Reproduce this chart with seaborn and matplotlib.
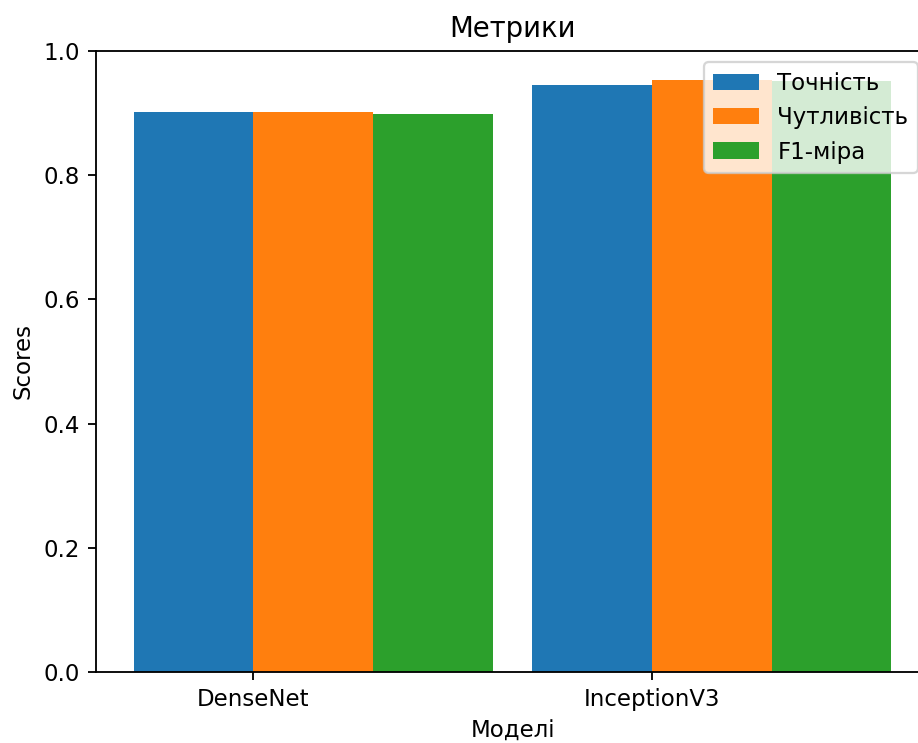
import matplotlib
matplotlib.use("Agg")
import matplotlib.pyplot as plt
import pandas as pd
import seaborn as sns

# ------------------------------------------------------------------
#  Data
# ------------------------------------------------------------------
models = ["DenseNet", "InceptionV3"]
metrics = ["Точність", "Чутливість", "F1-міра"]
precision = [0.902, 0.945]
recall = [0.902, 0.953]
f1 = [0.899, 0.951]

df = pd.DataFrame({
    "model": models * 3,
    "metric": [metrics[0]] * 2 + [metrics[1]] * 2 + [metrics[2]] * 2,
    "score": precision + recall + f1,
})

DPI = 165
fig = plt.figure(figsize=(918 / DPI, 743 / DPI), dpi=DPI)
# the original screenshot is cropped on the right, so the axes run past the edge
ax = fig.add_axes([0.1046, 0.0956, 1.012 - 0.1046, 0.9314 - 0.0956])

sns.barplot(data=df, x="model", y="score", hue="metric",
            hue_order=metrics, palette=["#1f77b4", "#ff7f0e", "#2ca02c"],
            saturation=1, width=0.9, linewidth=0, errorbar=None, ax=ax)

# ticks sit on the blue/orange boundary like the original
ax.set_xticks([-0.15, 0.85])
ax.set_xticklabels(models)
ax.set_xlim(-0.545, 1.545)
ax.set_ylim(0, 1.0)
ax.spines["right"].set_visible(False)

ax.set_xlabel("Моделі")
ax.set_ylabel("Scores")
ax.set_title("Метрики")

old = ax.get_legend()
handles = old.legend_handles
labels = [t.get_text() for t in old.texts]
old.remove()
ax.legend(handles, labels, loc="upper right")

fig.savefig("out.png", dpi=DPI)
